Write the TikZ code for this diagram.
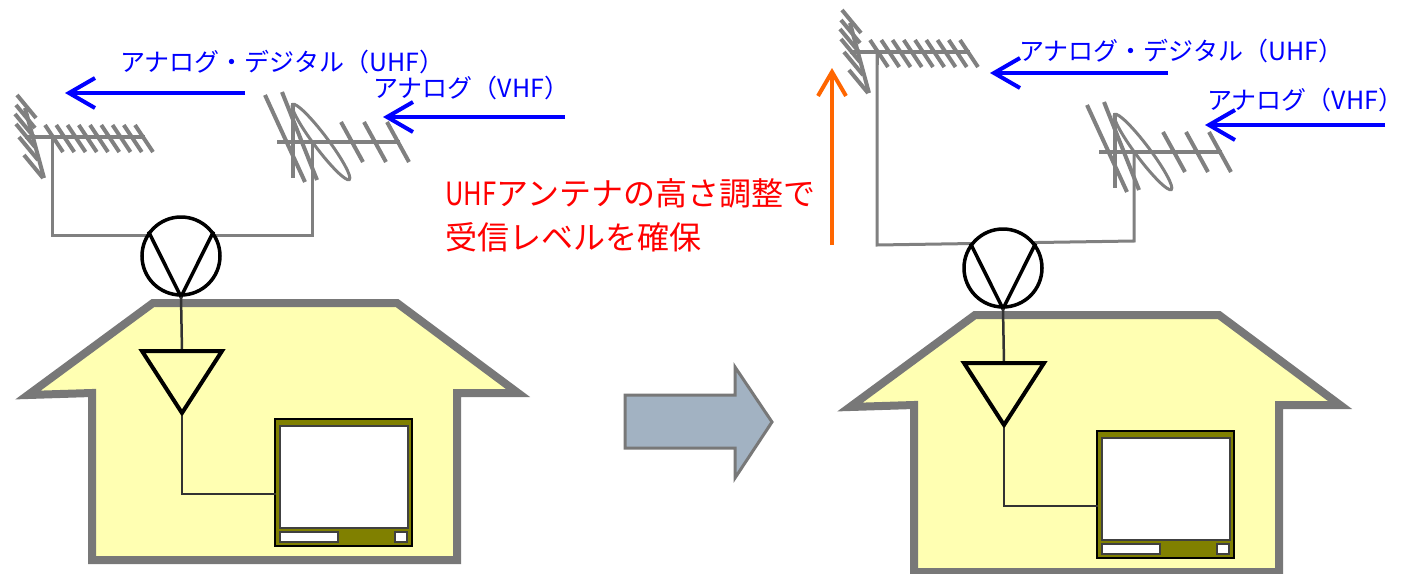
\documentclass[tikz,border=0pt]{standalone}
\usepackage{fontspec}
\setmainfont{Noto Sans CJK JP}
\usetikzlibrary{arrows.meta}
\definecolor{wallgray}{RGB}{120,120,120}
\definecolor{houseyellow}{RGB}{255,255,178}
\definecolor{tvolive}{RGB}{128,128,0}
\definecolor{moveblue}{RGB}{162,178,194}
\definecolor{liftorange}{RGB}{255,102,0}
\definecolor{cablegray}{RGB}{50,50,50}

\begin{document}
\begin{tikzpicture}[x=1pt,y=-1pt,
  antbar/.style={draw=gray, line width=4pt},
  feeder/.style={draw=gray, line width=3pt},
  cable/.style={draw=cablegray, line width=2.5pt},
  wavearrow/.style={draw=blue, line width=4pt, -{Straight Barb[length=26pt,width=30pt]}},
  liftarrow/.style={draw=liftorange, line width=4pt, -{Straight Barb[length=24pt,width=28pt]}},
  wavelabel/.style={text=blue, font=\fontsize{25}{30}\selectfont, inner sep=0pt, anchor=west},
  notelabel/.style={text=red, font=\fontsize{32}{44}\selectfont, inner sep=0pt, anchor=west, align=left},
  splitter/.style={circle, draw=black, fill=white, line width=3.5pt, minimum size=78pt, inner sep=0pt},
  tvbody/.style={draw=black, fill=tvolive, line width=2pt, minimum width=137pt, minimum height=127pt, inner sep=0pt},
  tvpart/.style={draw=black!75, fill=white, line width=1.5pt, inner sep=0pt, anchor=north west},
  % UHF Yagi: reflector stack, boom and nine directors
  uhfyagi/.pic={
    \draw[antbar] (25,137) -- (145,137);
    \foreach \k in {0,...,8} \draw[antbar] ({45+11.25*\k},125) -- ++(18,27);
    \draw[antbar] (25,108) -- (44,178);
    \foreach \x/\y in {17/95,16/105,15/114,16/124,19/137,24/155}
      \draw[antbar] (\x,\y) -- ++(19,23);
    \coordinate (mast) at (52,139);
    \draw[feeder] (mast) -- (52,150);
  },
  % VHF Yagi: two reflectors, folded dipole and three directors
  vhfyagi/.pic={
    \draw[antbar] (277,142) -- (400,142);
    \draw[antbar] (265,95) -- (305,182);
    \draw[antbar] (282,92) -- (317,180);
    \draw[antbar] (293,103) -- (293,178);
    \draw[draw=gray, line width=3pt, rotate around={-53:(321,142)}] (321,142) ellipse [x radius=47, y radius=7];
    \foreach \x in {341,364,387} \draw[antbar] (\x,122) -- ++(22,40);
    \coordinate (mast) at (312,142);
  },
  % house with splitter, booster and television
  home/.pic={
    \fill[houseyellow] (153,303) -- (397,303) -- (518,393) -- (457,393) -- (457,560)
      -- (92,560) -- (92,393) -- (28,395) -- cycle;
    \draw[wallgray, line width=8pt, line join=miter] (153,303) -- (397,303) -- (518,393)
      -- (457,393) -- (457,560) -- (92,560) -- (92,393) -- (28,395) -- cycle;
    \node[splitter] (sp) at (181,256) {};
    \draw[black, line width=3.5pt, line join=miter] (sp.143) -- (sp.south) -- (sp.37);
    \coordinate (ampin) at (182,351);
    \coordinate (ampout) at (182,413);
    \draw[cable] (sp.south) -- (ampin);
    \draw[black, line width=4pt, line join=miter] (142,351) -- (222,351) -- (ampout) -- cycle;
    \node[tvbody] (tv) at (343.5,482.5) {};
    \node[tvpart, minimum width=128pt, minimum height=102pt] (screen) at (279,425) {};
    \node[tvpart, minimum width=58pt, minimum height=10pt] (bar) at (279,531) {};
    \node[tvpart, minimum width=12pt, minimum height=10pt] (knob) at (394,531) {};
    \coordinate (tvin) at (276,494);
    \draw[cable] (ampout) ++(0,3) |- (tvin);
  }
]
\fill[white] (0,0) rectangle (1403,573);
\useasboundingbox (0,0) rectangle (1403,573);

% before: both antennas on the same mast height
\pic (LU-) at (0,0) {uhfyagi};
\pic (LV-) at (0,0) {vhfyagi};
\coordinate (Lc1) at (52,235);
\coordinate (Lc2) at (312,235);
\draw[feeder] (LU-mast) -- (Lc1) -- (Lc2) -- (LV-mast);
\pic (LH-) at (0,0) {home};

% after: UHF antenna raised
\pic (RU-) at (825,-85) {uhfyagi};
\pic (RV-) at (822,10) {vhfyagi};
\coordinate (Rc1) at (877,245);
\coordinate (Rc2) at (1134,241);
\draw[feeder] (RU-mast) -- (Rc1) -- (Rc2) -- (RV-mast);
\pic (RH-) at (822,12) {home};

% incoming signals
\coordinate (LUsrc) at (245,93);  \coordinate (LUdst) at (65,93);
\coordinate (LVsrc) at (565,117); \coordinate (LVdst) at (383,117);
\coordinate (RUsrc) at (1168,73); \coordinate (RUdst) at (990,73);
\coordinate (RVsrc) at (1385,125); \coordinate (RVdst) at (1205,125);
\draw[wavearrow] (LUsrc) -- (LUdst);
\draw[wavearrow] (LVsrc) -- (LVdst);
\draw[wavearrow] (RUsrc) -- (RUdst);
\draw[wavearrow] (RVsrc) -- (RVdst);
\node[wavelabel] (LUtext) at (120,62) {アナログ・デジタル（UHF）};
\node[wavelabel] (LVtext) at (373,88) {アナログ（VHF）};
\node[wavelabel] (RUtext) at (1019,51) {アナログ・デジタル（UHF）};
\node[wavelabel] (RVtext) at (1207,100) {アナログ（VHF）};

% note and height change
\node[notelabel] (note) at (445,215) {\scalebox{0.8}[1]{UHF}アンテナの高さ調整で\\受信レベルを確保};
\coordinate (liftfrom) at (832,245);
\coordinate (liftto) at (832,68);
\draw[liftarrow] (liftfrom) -- (liftto);

% transition arrow
\draw[draw=wallgray, line width=3pt, fill=moveblue, line join=miter] (625,395) -- (735,395) -- (735,367)
  -- (772,422) -- (735,478) -- (735,448) -- (625,448) -- cycle;
\end{tikzpicture}
\end{document}
